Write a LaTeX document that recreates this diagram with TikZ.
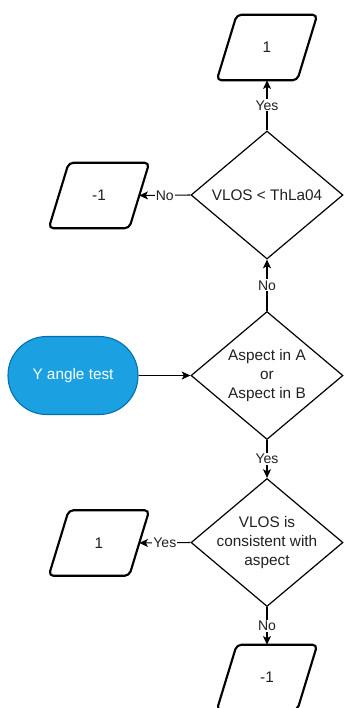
\documentclass[tikz,border=0pt]{standalone}
\usepackage{fontspec}
\setmainfont{Liberation Sans}
\usetikzlibrary{shapes.geometric,arrows.meta,calc}
\definecolor{txt}{HTML}{202020}
\definecolor{termfill}{HTML}{1BA1E2}
\definecolor{termline}{HTML}{006EAF}
\tikzset{
  decision/.style={draw=black, line width=0.9pt, shape=diamond, inner sep=0pt,
    minimum width=152*0.75pt, minimum height=128*0.75pt},
  dtext/.style={text=txt, align=center, font=\fontsize{11.5pt}{13.9pt}\selectfont},
  result/.style={inner sep=0pt, minimum width=100*0.75pt, minimum height=65*0.75pt,
    text=txt, font=\fontsize{11.5pt}{13.9pt}\selectfont},
  resultline/.style={draw=black, line width=1.6pt, rounded corners=3.5pt, line join=round},
  terminal/.style={draw=termline, fill=termfill, line width=0.8pt,
    rounded corners=29pt, minimum width=130*0.75pt, minimum height=78*0.75pt,
    text=white, font=\fontsize{11.5pt}{13.9pt}\selectfont},
  flow/.style={draw=black, line width=0.8pt, -{Stealth[length=6.5pt,width=6pt,inset=1.6pt]}},
  edgelabel/.style={fill=white, inner sep=0.8pt, text=txt,
    font=\fontsize{10.5pt}{12.6pt}\selectfont},
}
\begin{document}
\begin{tikzpicture}[x=0.75pt, y=-0.75pt]
\useasboundingbox (0,0) rectangle (344,708);

% outputs: slanted data boxes
\node[result] (outTop) at (267,47.5) {1};
\node[result] (outNo) at (99,195.5) {-1};
\node[result] (outYes) at (99,543) {1};
\node[result] (outBot) at (267,677.5) {-1};
\foreach \n in {outTop,outNo,outYes,outBot}
  \draw[resultline] ($(\n.north west)+(20,0)$) -- (\n.north east)
    -- ($(\n.south east)+(-20,0)$) -- (\n.south west) -- cycle;
% entry points on the slanted right edges
\coordinate (outNo-in) at ($(outNo.east)+(-10,0)$);
\coordinate (outYes-in) at ($(outYes.east)+(-10,0)$);

% decisions
\node[decision, label={[dtext]center:VLOS < ThLa04}] (dThr) at (267,195) {};
\node[decision, label={[dtext]center:Aspect in A\\or\\Aspect in B}] (dAsp) at (267,375.5) {};
\node[decision, label={[dtext]center:VLOS is\\consistent with\\aspect}] (dCons) at (267,542.5) {};

% start
\node[terminal] (start) at (73,375.5) {Y angle test};

% connectors
\draw[flow] (start.east) -- (dAsp.west);
\draw[flow] (dAsp.north) -- node[edgelabel] {No} (dThr.south);
\draw[flow] (dThr.north) -- node[edgelabel] {Yes} (outTop.south);
\draw[flow] (dThr.west) -- node[edgelabel] {No} (outNo-in);
\draw[flow] (dAsp.south) -- node[edgelabel] {Yes} (dCons.north);
\draw[flow] (dCons.west) -- node[edgelabel] {Yes} (outYes-in);
\draw[flow] (dCons.south) -- node[edgelabel] {No} (outBot.north);
\end{tikzpicture}
\end{document}
